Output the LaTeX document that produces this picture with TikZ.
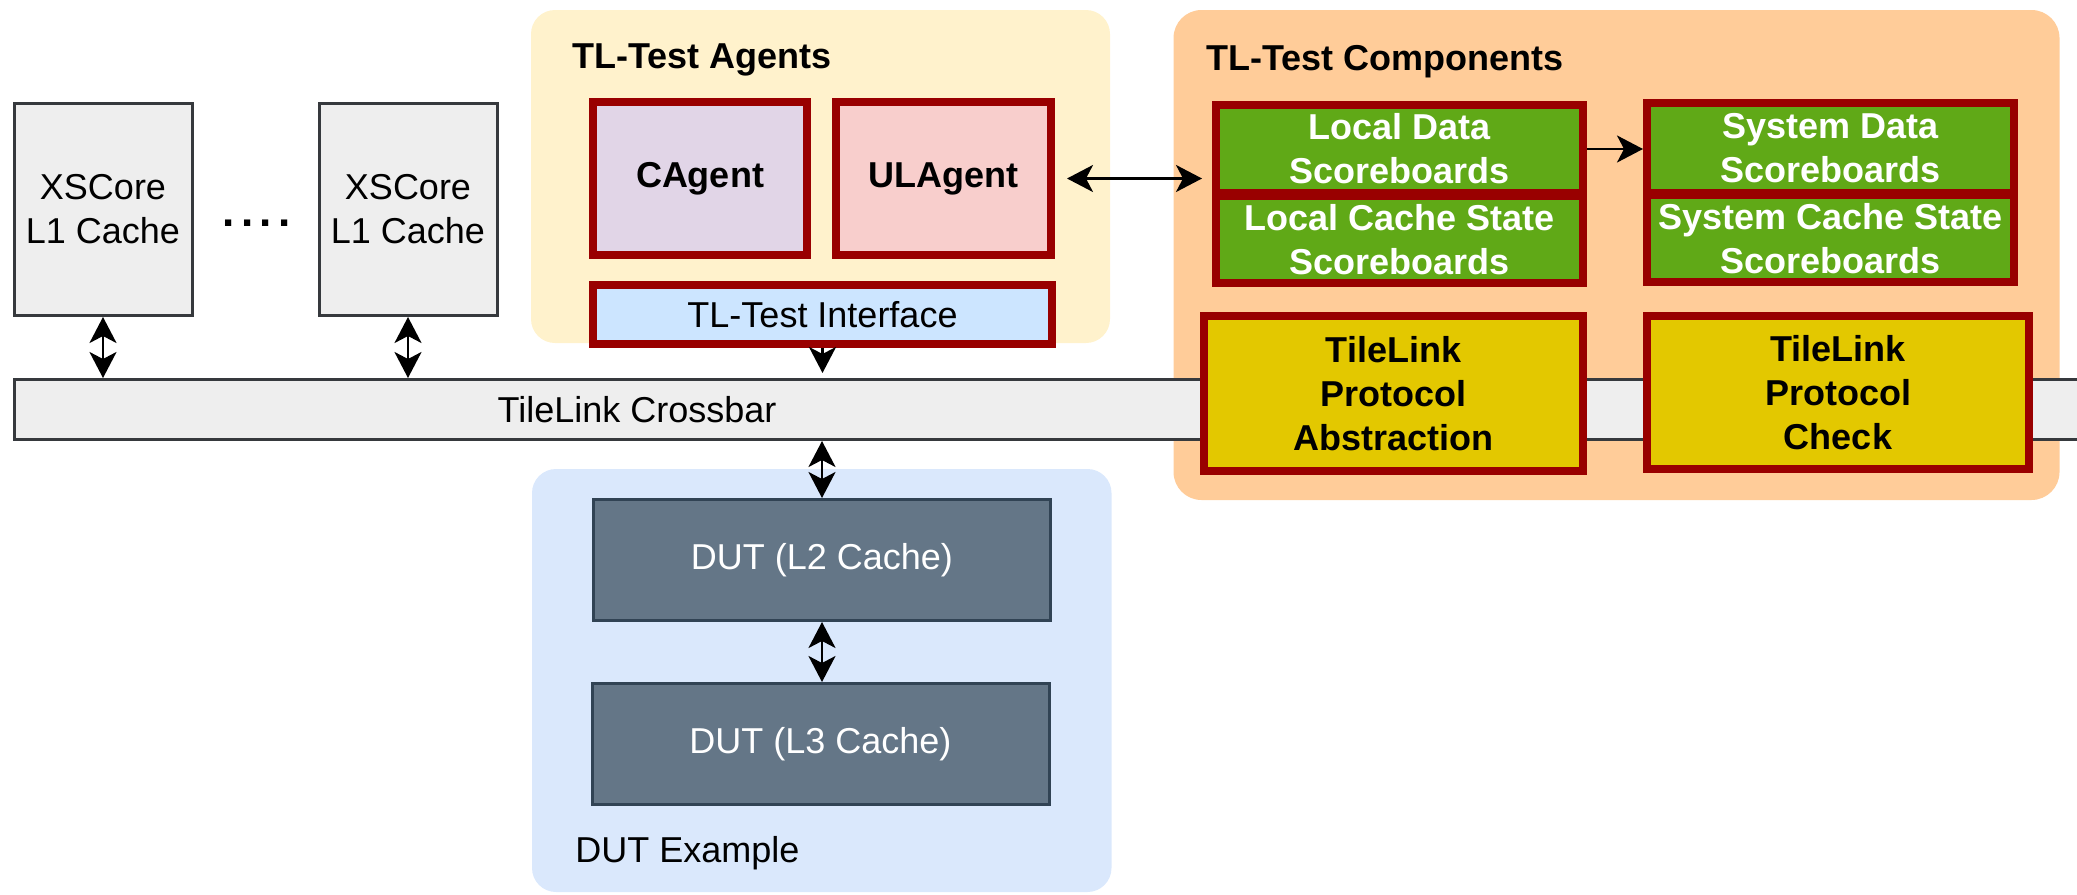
\documentclass[tikz,border=0pt]{standalone}
\usepackage{fontspec}
\setmainfont{Liberation Sans}
\usetikzlibrary{arrows.meta}

\definecolor{agentbg}{HTML}{FFF2CC}
\definecolor{compbg}{HTML}{FFCC99}
\definecolor{dutbg}{HTML}{DAE8FC}
\definecolor{redline}{HTML}{990000}
\definecolor{cagentfill}{HTML}{E1D5E7}
\definecolor{ulagentfill}{HTML}{F8CECC}
\definecolor{ifacefill}{HTML}{CCE5FF}
\definecolor{sbgreen}{HTML}{60A917}
\definecolor{tlyellow}{HTML}{E3C800}
\definecolor{grayfill}{HTML}{EEEEEE}
\definecolor{grayline}{HTML}{36393D}
\definecolor{dutfill}{HTML}{647687}
\definecolor{dutline}{HTML}{314354}

\begin{document}
\begin{tikzpicture}[x=0.5pt,y=-0.5pt,
  every node/.style={font=\fontsize{18pt}{22pt}\selectfont, inner sep=0pt},
  boldtext/.style={font=\fontsize{18pt}{22pt}\selectfont\bfseries},
  panel/.style={draw=none, rounded corners=12pt},
  corebox/.style={draw=grayline, fill=grayfill, line width=1.5pt, align=center},
  agentbox/.style={draw=redline, line width=4pt, boldtext},
  sbbox/.style={draw=redline, fill=sbgreen, line width=4pt, text=white, align=center, boldtext},
  protobox/.style={draw=redline, fill=tlyellow, line width=4pt, align=center, boldtext},
  dutbox/.style={draw=dutline, fill=dutfill, line width=1.5pt, text=white},
  tip/.style={Stealth[length=13pt,width=13.5pt,inset=3.5pt]},
  link/.style={line width=1.2pt, {Stealth[length=13pt,width=13.5pt,inset=3.5pt]}-{Stealth[length=13pt,width=13.5pt,inset=3.5pt]}},
  oneway/.style={line width=1.2pt, -{Stealth[length=13pt,width=13.5pt,inset=3.5pt]}}
]
\useasboundingbox (0,0) rectangle (2077,894);

% group panels
\node[panel, fill=agentbg, minimum width=289.5pt, minimum height=166.5pt] (agentpanel) at (820.5,176.5) {};
\node[panel, fill=compbg, minimum width=443pt, minimum height=245pt, rounded corners=14pt] (comppanel) at (1616.5,255) {};
\node[panel, fill=dutbg, minimum width=289.75pt, minimum height=211.5pt] (dutpanel) at (821.75,680.5) {};

\node[boldtext, anchor=base west] (agenttitle) at (572,68) {TL-Test Agents};
\node[boldtext, anchor=base west] (comptitle) at (1206,70) {TL-Test Components};
\node[anchor=base west] (duttitle) at (575,862) {DUT Example};

% cores
\node[corebox, minimum width=89pt, minimum height=106pt] (xs1) at (103,209.5) {XSCore\\L1 Cache};
\node[corebox, minimum width=89pt, minimum height=106pt] (xs2) at (408,209.5) {XSCore\\L1 Cache};
\node[font=\fontsize{22pt}{24pt}\selectfont\bfseries, anchor=base] (dots) at (256.5,226)
  {.\hspace{3.1pt}.\hspace{3.1pt}.\hspace{3.1pt}.};

% crossbar
\node[draw=grayline, fill=grayfill, line width=1.5pt, minimum width=1038pt, minimum height=30pt] (xbar) at (1052,409.5) {};
\node (xbartext) at (637,409.5) {TileLink Crossbar};

% agents
\node[agentbox, fill=cagentfill, minimum width=107pt, minimum height=76.5pt] (cag) at (700,178.5) {CAgent};
\node[agentbox, fill=ulagentfill, minimum width=107.5pt, minimum height=76.5pt] (ula) at (943.5,178.5) {ULAgent};
\node[draw=redline, line width=4pt, fill=ifacefill, minimum width=229.5pt, minimum height=29.5pt] (ifc) at (822.5,314.5) {TL-Test Interface};

% scoreboards
\node[sbbox, minimum width=183.5pt, minimum height=44pt] (ld) at (1399.5,149) {Local Data\\Scoreboards};
\node[sbbox, minimum width=183.5pt, minimum height=43.5pt] (lc) at (1399.5,239.5) {Local Cache State\\Scoreboards};
\node[sbbox, minimum width=183.5pt, minimum height=45pt] (sd) at (1830.5,148) {System Data\\Scoreboards};
\node[sbbox, minimum width=183.5pt, minimum height=43.5pt] (sc) at (1830.5,238.5) {System Cache State\\Scoreboards};

% protocol blocks
\node[protobox, minimum width=189.5pt, minimum height=77.5pt] (abs) at (1393.5,393.5) {TileLink\\Protocol\\Abstraction};
\node[protobox, minimum width=191pt, minimum height=76.5pt] (chk) at (1838,392.5) {TileLink\\Protocol\\Check};

% DUT
\node[dutbox, minimum width=228.5pt, minimum height=60.5pt] (l2) at (822,560) {DUT (L2 Cache)};
\node[dutbox, minimum width=228.5pt, minimum height=60.5pt] (l3) at (820.5,744) {DUT (L3 Cache)};

% connections
\draw[link] (xs1.south) -- (xs1.south |- xbar.north);
\draw[link] (xs2.south) -- (xs2.south |- xbar.north);
\draw[oneway, shorten >=2.5pt] (ifc.south) -- (ifc.south |- xbar.north);
\draw[link] (l2.north |- xbar.south) -- (l2.north);
\draw[link] (l2.south) -- (l2.south |- l3.north);
\draw[link, shorten <=6pt, shorten >=5pt] (ula.east) -- (ula.east -| ld.west);
\draw[oneway] (ld.east) -- (ld.east -| sd.west);
\end{tikzpicture}
\end{document}
